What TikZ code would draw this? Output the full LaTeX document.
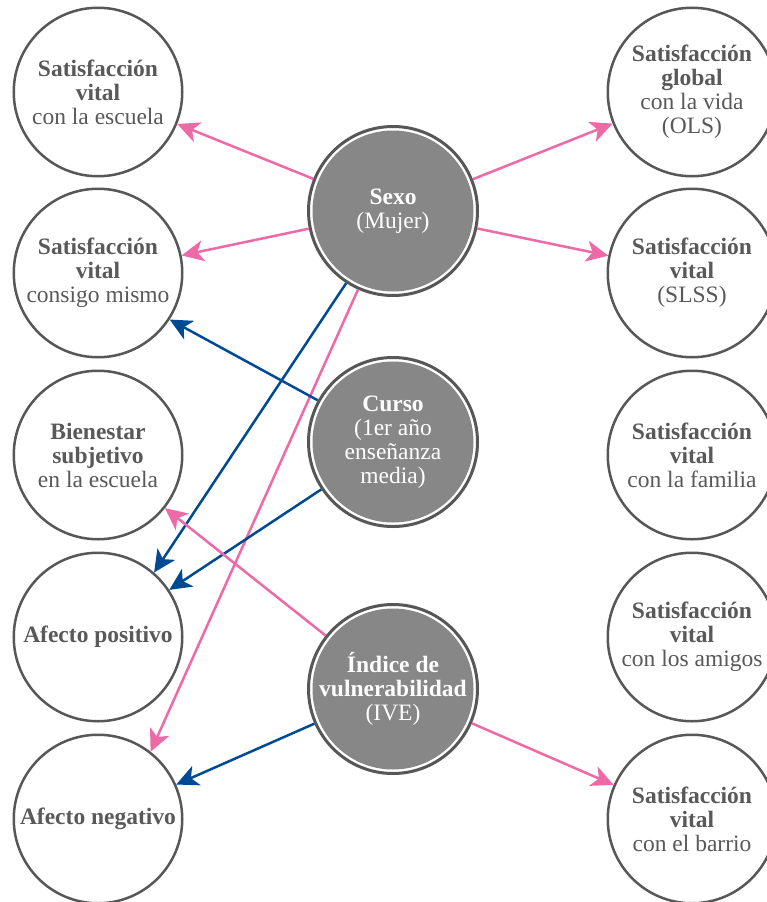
\documentclass[tikz,border=0pt]{standalone}
\usepackage{fontspec}
\setmainfont{Liberation Serif}
\usetikzlibrary{arrows.meta}
\definecolor{ringgray}{HTML}{575757}
\definecolor{txtgray}{HTML}{595959}
\definecolor{hubfill}{HTML}{878787}
\definecolor{linkpink}{HTML}{EE6AA7}
\definecolor{linkblue}{HTML}{004A94}
\tikzset{
  labelfont/.style={font=\fontsize{23.5}{24}\selectfont},
  outcome/.style={circle, draw=ringgray, line width=2.5pt, fill=white,
    minimum size=168.5pt, inner sep=0pt, align=center, text=txtgray, labelfont},
  hub/.style={circle, draw=ringgray, line width=3pt, fill=white,
    minimum size=169pt, inner sep=0pt, align=center, text=white, labelfont,
    path picture={\fill[hubfill] (path picture bounding box.center) circle (80.5pt);}},
  basearrow/.style={line width=2.5pt, -{Stealth[length=22pt,width=21pt,inset=6pt]}},
  pinkarrow/.style={basearrow, draw=linkpink},
  bluearrow/.style={basearrow, draw=linkblue}
}
\begin{document}
\begin{tikzpicture}[x=1pt, y=-1pt]
\useasboundingbox (0,0) rectangle (767,902);
\clip (0,0) rectangle (767,902);

% outcome circles, left column
\node[outcome] (l1) at (98,92)  {\textbf{Satisfacción}\\\textbf{vital}\\con la escuela};
\node[outcome] (l2) at (98,273) {\textbf{Satisfacción}\\\textbf{vital}\\consigo mismo};
\node[outcome] (l3) at (98,455) {\textbf{Bienestar}\\\textbf{subjetivo}\\en la escuela};
\node[outcome] (l4) at (98,637) {\textbf{Afecto positivo}};
\node[outcome] (l5) at (98,819) {\textbf{Afecto negativo}};

% outcome circles, right column
\node[outcome] (r1) at (692,92)  {\textbf{Satisfacción}\\\textbf{global}\\con la vida\\(OLS)};
\node[outcome] (r2) at (692,273) {\textbf{Satisfacción}\\\textbf{vital}\\(SLSS)};
\node[outcome] (r3) at (692,455) {\textbf{Satisfacción}\\\textbf{vital}\\con la familia};
\node[outcome] (r4) at (692,637) {\textbf{Satisfacción}\\\textbf{vital}\\con los amigos};
\node[outcome] (r5) at (692,819) {\textbf{Satisfacción}\\\textbf{vital}\\con el barrio};

% predictor circles
\node[hub] (sexo)  at (393,211) {\textbf{Sexo}\\(Mujer)};
\node[hub] (curso) at (393,442) {\textbf{Curso}\\(1er año\\enseñanza\\media)};
\node[hub] (ive)   at (393,689) {\textbf{Índice de}\\\textbf{vulnerabilidad}\\(IVE)};

% effects of sex
\draw[pinkarrow] (sexo) -- (l1);
\draw[pinkarrow] (sexo) -- (l2);
\draw[pinkarrow] (sexo.246) -- (l5.52);
\draw[pinkarrow] (sexo) -- (r1);
\draw[pinkarrow] (sexo) -- (r2);
\draw[bluearrow] (sexo.237) -- (l4.49);

% effects of school year
\draw[bluearrow] (curso.151) -- (l2.327);
\draw[bluearrow] (curso) -- (l4);

% effects of vulnerability index
\draw[pinkarrow] (ive) -- (l3);
\draw[pinkarrow] (ive) -- (r5);
\draw[bluearrow] (ive) -- (l5);
\end{tikzpicture}
\end{document}
